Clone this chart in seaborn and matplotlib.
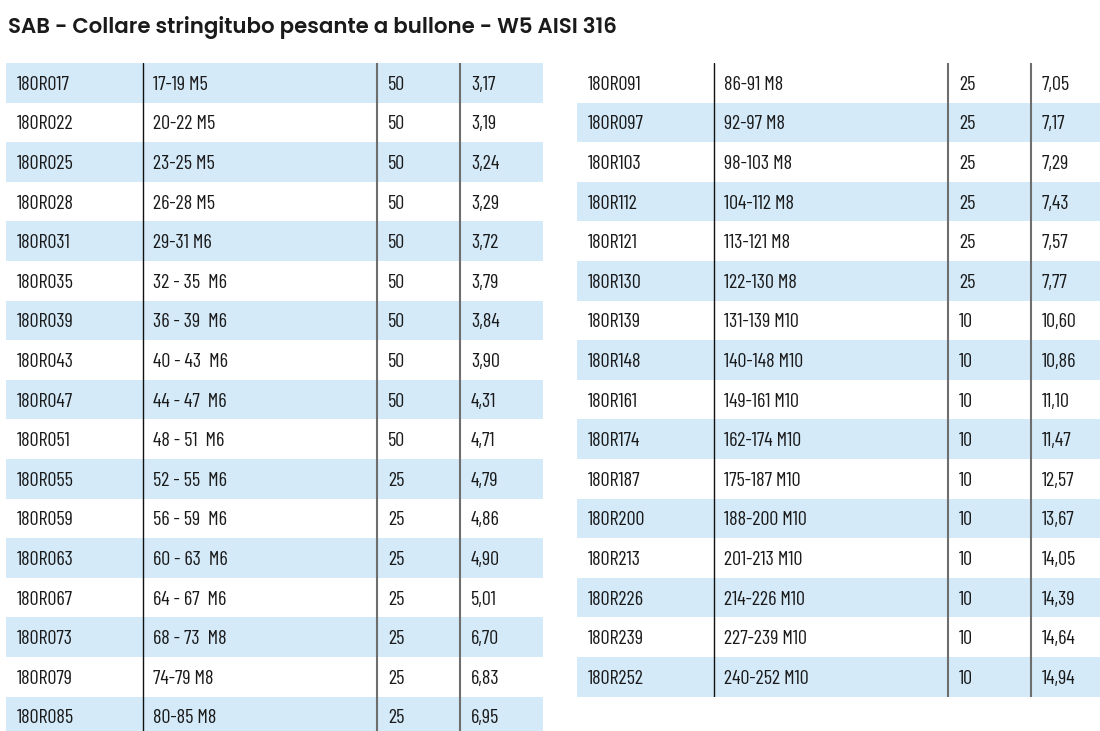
import numpy as np
import matplotlib
matplotlib.use("Agg")
import matplotlib.pyplot as plt
import matplotlib.patheffects as pe
import seaborn as sns
from matplotlib.colors import ListedColormap
from matplotlib import font_manager as fm

# left block of the table
left_codes = ['180R017', '180R022', '180R025', '180R028', '180R031', '180R035',
              '180R039', '180R043', '180R047', '180R051', '180R055', '180R059',
              '180R063', '180R067', '180R073', '180R079', '180R085']
left_sizes = ['17-19 M5', '20-22 M5', '23-25 M5', '26-28 M5', '29-31 M6',
              '32 - 35  M6', '36 - 39  M6', '40 - 43  M6', '44 - 47  M6',
              '48 - 51  M6', '52 - 55  M6', '56 - 59  M6', '60 - 63  M6',
              '64 - 67  M6', '68 - 73  M8', '74-79 M8', '80-85 M8']
left_pack = [50, 50, 50, 50, 50, 50, 50, 50, 50, 50, 25, 25, 25, 25, 25, 25, 25]
left_price = [3.17, 3.19, 3.24, 3.29, 3.72, 3.79, 3.84, 3.90, 4.31, 4.71,
              4.79, 4.86, 4.90, 5.01, 6.70, 6.83, 6.95]

# right block of the table
right_codes = ['180R091', '180R097', '180R103', '180R112', '180R121', '180R130',
               '180R139', '180R148', '180R161', '180R174', '180R187', '180R200',
               '180R213', '180R226', '180R239', '180R252']
right_sizes = ['86-91 M8', '92-97 M8', '98-103 M8', '104-112 M8', '113-121 M8',
               '122-130 M8', '131-139 M10', '140-148 M10', '149-161 M10',
               '162-174 M10', '175-187 M10', '188-200 M10', '201-213 M10',
               '214-226 M10', '227-239 M10', '240-252 M10']
right_pack = [25, 25, 25, 25, 25, 25, 10, 10, 10, 10, 10, 10, 10, 10, 10, 10]
right_price = [7.05, 7.17, 7.29, 7.43, 7.57, 7.77, 10.60, 10.86, 11.10, 11.47,
               12.57, 13.67, 14.05, 14.39, 14.64, 14.94]

title = "SAB - Collare stringitubo pesante a bullone - W5 AISI 316"

W, H = 1100, 731
ROW_H = 39.6
TABLE_W = 537
TOP = 63
col_edges = [0, 137, 371, 454]
col_pad = [11, 10, 11, 11]
band = '#d4eaf9'
ink = '#1a1a1a'

sns.set_theme(style="white")

fonts = {(f.name, f.weight) for f in fm.fontManager.ttflist}


def pick(prefs):
    # first (family, weight) pair that is really installed
    for name, size, weight in prefs:
        if (name, weight) in fonts:
            return name, size, weight
    return prefs[-1]


body_font, body_size, body_weight = pick([('Barlow Condensed', 14.5, 400),
                                          ('Archivo Narrow', 13.5, 400),
                                          ('DejaVu Sans', 12, 400)])
title_font, title_size, title_weight = pick([('Poppins', 15.3, 600),
                                             ('Jost', 16.5, 400),
                                             ('DejaVu Sans', 13.8, 700)])
plt.rcParams['font.family'] = [body_font, 'DejaVu Sans']


def fmt_price(v):
    return f"{v:.2f}".replace('.', ',')


def draw_block(fig, x0, codes, sizes, pack, price, first_shaded):
    n = len(codes)
    ax = fig.add_axes([x0 / W, 1 - (TOP + n * ROW_H) / H,
                       TABLE_W / W, n * ROW_H / H])
    shade = np.array([(i + first_shaded) % 2 == 0 for i in range(n)],
                     dtype=float).reshape(-1, 1)
    sns.heatmap(shade, ax=ax, cmap=ListedColormap(['white', band]),
                vmin=0, vmax=1, cbar=False, xticklabels=False,
                yticklabels=False)
    ax.set_axis_off()

    # column separators
    ax.axvline(col_edges[1] / TABLE_W, color='#111111', lw=1.0)
    ax.axvline(col_edges[2] / TABLE_W, color='#6e6e6e', lw=1.5)
    ax.axvline(col_edges[3] / TABLE_W, color='#6e6e6e', lw=1.5)

    cols = [codes, sizes, [str(p) for p in pack], [fmt_price(p) for p in price]]
    for j, col in enumerate(cols):
        xt = (col_edges[j] + col_pad[j]) / TABLE_W
        for i, s in enumerate(col):
            ax.text(xt, i + 0.55, s, ha='left', va='center', fontsize=body_size,
                    fontweight=body_weight, color=ink)
    return ax


fig = plt.figure(figsize=(W / 100, H / 100), dpi=100)
fig.patch.set_facecolor('white')

draw_block(fig, 6, left_codes, left_sizes, left_pack, left_price, 0)
draw_block(fig, 577, right_codes, right_sizes, right_pack, right_price, 1)

t = fig.text(8 / W, 1 - 33 / H, title, ha='left', va='baseline', fontsize=title_size,
             fontweight=title_weight, color=ink, family=[title_font, 'DejaVu Sans'])
if title_font == 'Jost':
    # only a regular cut is installed, thicken the strokes a bit
    t.set_path_effects([pe.withStroke(linewidth=1.1, foreground=ink)])

fig.savefig('out.png', dpi=100)
